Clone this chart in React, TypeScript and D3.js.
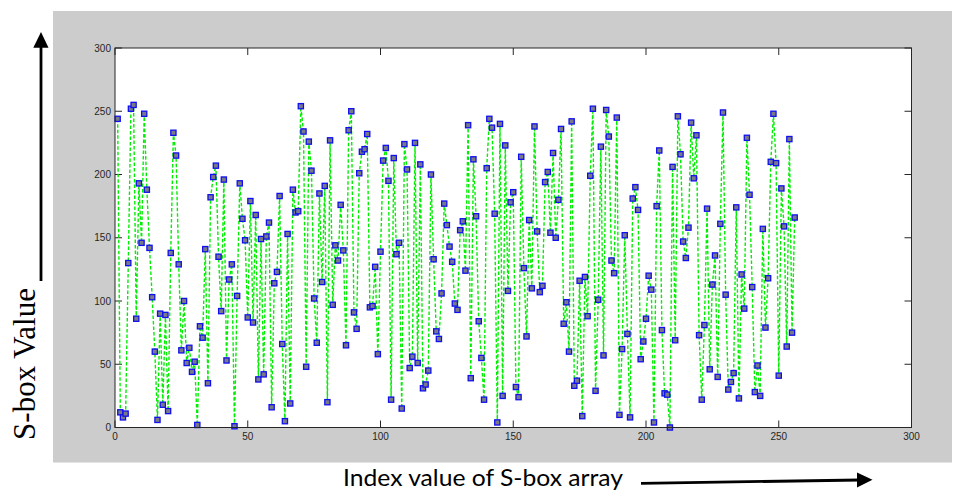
import React from "react";
import * as d3 from "d3";

// S-box values, plotted against index 1..256
const sboxValues: number[] = [
  244, 12, 8, 11, 130, 252, 255, 86, 193, 146,
  248, 188, 142, 103, 60, 6, 90, 18, 89, 13,
  138, 233, 215, 129, 61, 100, 51, 63, 44, 52,
  2, 80, 71, 141, 35, 182, 198, 207, 135, 92,
  196, 53, 117, 129, 1, 104, 193, 165, 148, 87,
  179, 83, 168, 38, 149, 42, 151, 162, 16, 114,
  123, 183, 66, 5, 153, 19, 188, 170, 171, 254,
  234, 48, 226, 203, 102, 67, 185, 115, 191, 20,
  227, 97, 144, 132, 176, 140, 65, 235, 250, 91,
  78, 201, 218, 220, 232, 95, 96, 127, 58, 139,
  211, 221, 195, 22, 213, 137, 146, 15, 224, 204,
  47, 56, 225, 51, 208, 31, 34, 45, 200, 133,
  76, 70, 106, 177, 160, 143, 131, 98, 93, 156,
  163, 124, 239, 39, 212, 167, 84, 55, 22, 205,
  244, 237, 169, 4, 240, 25, 223, 108, 178, 186,
  32, 24, 214, 126, 72, 164, 110, 238, 155, 107,
  112, 194, 202, 154, 217, 150, 180, 236, 82, 99,
  60, 242, 33, 37, 116, 9, 119, 88, 199, 252,
  29, 101, 222, 57, 251, 230, 132, 122, 245, 10,
  62, 152, 74, 8, 181, 190, 172, 54, 68, 86,
  120, 109, 4, 175, 219, 77, 27, 26, 0, 206,
  69, 246, 216, 147, 134, 158, 241, 197, 231, 73,
  22, 81, 173, 46, 113, 136, 40, 161, 249, 105,
  30, 36, 43, 174, 23, 121, 94, 229, 184, 111,
  28, 49, 25, 157, 79, 118, 210, 248, 209, 41,
  189, 159, 64, 228, 75, 166,
];
const indices: number[] = sboxValues.map((_, i) => i + 1);

const xTicks: number[] = [0, 50, 100, 150, 200, 250, 300];
const yTicks: number[] = [0, 50, 100, 150, 200, 250, 300];

const yTitle = "S-box Value";
const xTitle = "Index value of S-box array";

export default function App() {
  const W = 960;
  const H = 491;
  const left = 115;
  const right = 911.5;
  const top = 48;
  const bottom = 427.5;

  const x = d3.scaleLinear().domain([0, 300]).range([left, right]);
  const y = d3.scaleLinear().domain([0, 300]).range([bottom, top]);

  const line = d3
    .line<number>()
    .x((_, i) => x(indices[i]))
    .y((d) => y(d));

  const tickLen = 7;
  const tickFont = "'Liberation Sans', Arial, sans-serif";
  const ms = 5.2;

  return (
    <svg
      width={W}
      height={H}
      style={{ position: "absolute", left: 0, top: 0, background: "#fff" }}
    >
      {/* figure grey background */}
      <rect x={53} y={11} width={899} height={451.5} fill="#cccccc" />
      {/* axes area */}
      <rect x={left} y={top} width={right - left} height={bottom - top} fill="#ffffff" />

      {/* ticks */}
      {xTicks.map((t) => (
        <g key={"xt" + t}>
          <line x1={x(t)} x2={x(t)} y1={bottom} y2={bottom - tickLen} stroke="#262626" strokeWidth={1} />
          <line x1={x(t)} x2={x(t)} y1={top} y2={top + tickLen} stroke="#262626" strokeWidth={1} />
          <text
            x={x(t)}
            y={bottom + 12}
            fontFamily={tickFont}
            fontSize={10}
            fill="#262626"
            textAnchor="middle"
          >
            {t}
          </text>
        </g>
      ))}
      {yTicks.map((t) => (
        <g key={"yt" + t}>
          <line x1={left} x2={left + tickLen} y1={y(t)} y2={y(t)} stroke="#262626" strokeWidth={1} />
          <line x1={right} x2={right - tickLen} y1={y(t)} y2={y(t)} stroke="#262626" strokeWidth={1} />
          <text
            x={left - 4}
            y={y(t) + 3.5}
            fontFamily={tickFont}
            fontSize={10}
            fill="#262626"
            textAnchor="end"
          >
            {t}
          </text>
        </g>
      ))}

      {/* data line */}
      <path
        d={line(sboxValues) || ""}
        fill="none"
        stroke="#00ee00"
        strokeWidth={1.4}
        strokeDasharray="3.5,2"
      />
      {/* markers */}
      {sboxValues.map((v, i) => (
        <rect
          key={"m" + i}
          x={x(indices[i]) - ms / 2}
          y={y(v) - ms / 2}
          width={ms}
          height={ms}
          fill="#7a7a86"
          stroke="#1010ee"
          strokeWidth={1.3}
        />
      ))}

      {/* frame */}
      <rect
        x={left}
        y={top}
        width={right - left}
        height={bottom - top}
        fill="none"
        stroke="#262626"
        strokeWidth={1}
      />

      {/* y title with arrow */}
      <text
        transform="translate(35,364) rotate(-90)"
        fontFamily="'Liberation Serif', 'Times New Roman', serif"
        fontSize={31}
        fill="#000"
        textAnchor="middle"
      >
        {yTitle}
      </text>
      <line x1={41} x2={41} y1={281} y2={46} stroke="#000" strokeWidth={2.8} />
      <polygon points="33.3,47.7 48.5,47.7 41,32" fill="#000" />

      {/* x title with arrow */}
      <text
        x={343}
        y={486}
        fontFamily="Lato, 'Open Sans', sans-serif"
        fontSize={23}
        fill="#000"
        textLength={280}
        lengthAdjust="spacingAndGlyphs"
      >
        {xTitle}
      </text>
      <line x1={641} y1={483.3} x2={860} y2={480} stroke="#000" strokeWidth={2.8} />
      <polygon points="857,472.5 872.5,479.8 857,487.5" fill="#000" />
    </svg>
  );
}
